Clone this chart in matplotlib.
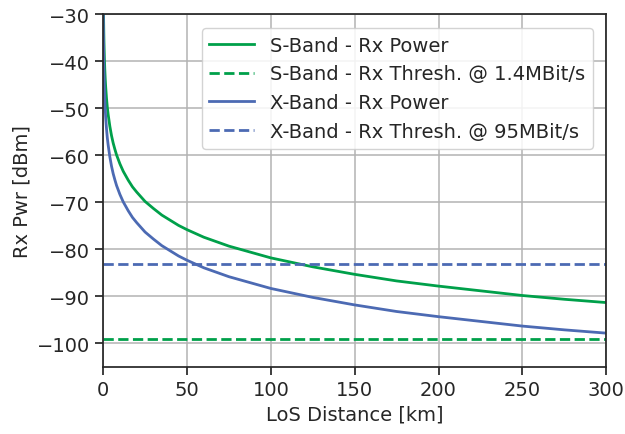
import matplotlib
matplotlib.use("Agg")
import matplotlib.pyplot as plt

# Distances [km] and received power [dBm]
dist_km = [0.1, 0.15, 0.2, 0.25, 0.3, 0.4, 0.5, 0.75, 1, 1.25, 1.5, 2, 2.5, 3, 4, 5, 6,
           7, 8, 10, 12, 15, 17.5, 20, 25, 30, 35, 40, 45, 50, 60, 75, 100, 125, 150,
           175, 200, 225, 250, 275, 300]
s_band_pwr = [-21.8, -25.3, -27.8, -29.8, -31.3, -33.8, -35.8, -39.3, -41.8, -43.7,
              -45.3, -47.8, -49.8, -51.3, -53.8, -55.8, -57.4, -58.7, -59.9, -61.8,
              -63.4, -65.3, -66.7, -67.8, -69.8, -71.3, -72.7, -73.8, -74.9, -75.8,
              -77.4, -79.3, -81.8, -83.7, -85.3, -86.7, -87.8, -88.8, -89.8, -90.6, -91.3]
x_band_pwr = [-28.3, -31.8, -34.3, -36.3, -37.8, -40.3, -42.3, -45.8, -48.3, -50.2,
              -51.8, -54.3, -56.3, -57.8, -60.3, -62.3, -63.9, -65.2, -66.4, -68.3,
              -69.9, -71.8, -73.2, -74.3, -76.3, -77.8, -79.2, -80.3, -81.4, -82.3,
              -83.9, -85.8, -88.3, -90.2, -91.8, -93.2, -94.3, -95.3, -96.3, -97.1, -97.8]
s_band_thresh = -99   # @ 1.4 MBit/s
x_band_thresh = -83   # @ 95 MBit/s

green = "#00a04a"
blue = "#4c6ab3"

plt.rcParams["font.family"] = "DejaVu Sans"
plt.rcParams["font.size"] = 14

fig = plt.figure(figsize=(6.25, 4.35), dpi=100)
ax = fig.add_axes([0.165, 0.154, 0.805, 0.811])

ax.plot(dist_km, s_band_pwr, color=green, lw=2, label="S-Band - Rx Power")
ax.axhline(s_band_thresh, color=green, lw=2, ls="--", label="S-Band - Rx Thresh. @ 1.4MBit/s")
ax.plot(dist_km, x_band_pwr, color=blue, lw=2, label="X-Band - Rx Power")
ax.axhline(x_band_thresh, color=blue, lw=2, ls="--", label="X-Band - Rx Thresh. @ 95MBit/s")

ax.set_xlim(0, 300)
ax.set_ylim(-105, -30)
ax.set_xticks([0, 50, 100, 150, 200, 250, 300])
ax.set_yticks([-100, -90, -80, -70, -60, -50, -40, -30])
ax.grid(True, color="#b3b3b3", lw=1.1)
ax.set_axisbelow(True)
for sp in ax.spines.values():
    sp.set_color("#262626")
    sp.set_linewidth(1.25)
ax.tick_params(colors="#262626", labelsize=14, length=6, width=1.25)
ax.set_xlabel("LoS Distance [km]", fontsize=14, color="#262626")
ax.set_ylabel("Rx Pwr [dBm]", fontsize=14, color="#262626")

leg = ax.legend(loc="upper right", fontsize=14, framealpha=0.85, edgecolor="#cccccc",
                labelspacing=0.5, handlelength=2.3, borderaxespad=0.7)
for t in leg.get_texts():
    t.set_color("#262626")

fig.savefig("out.png", dpi=100)
